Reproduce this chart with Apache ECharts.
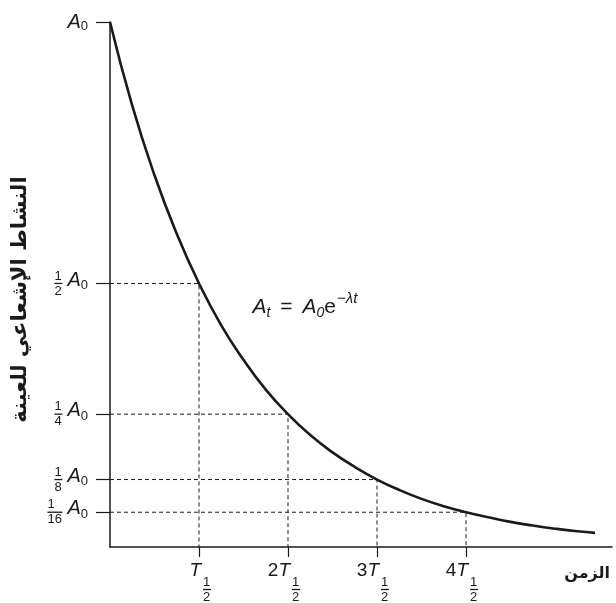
<!DOCTYPE html>
<html><head><meta charset="utf-8">
<script src="https://cdn.jsdelivr.net/npm/echarts@6/dist/echarts.min.js"></script>
<style>html,body{margin:0;padding:0;background:#fff}#c{width:616px;height:603px}</style>
</head><body><div id="c"></div>
<script>
// ---- data ----
const timeValues = [0,0.25,0.5,0.75,1,1.25,1.5,1.75,2,2.25,2.5,2.75,3,3.25,3.5,3.75,4,4.25,4.5,4.75,5,5.25,5.45];
const activityValues = [1,0.84,0.707,0.595,0.5,0.42,0.354,0.297,0.25,0.21,0.177,0.149,0.125,0.105,0.088,0.074,0.0625,0.053,0.044,0.037,0.031,0.026,0.023];
const halfLifeMultiples = [1,2,3,4];
const activityLevels = [0.5,0.25,0.125,0.0625];
const levelNumerators = ['1','1','1','1'];
const levelDenominators = ['2','4','8','16'];
const xCoefficients = ['','2','3','4'];
const yTickValues = [1,0.5,0.25,0.125,0.0625];
const yAxisTitle = 'النشاط الإشعاعي للعينة';
const xAxisTitle = 'الزمن';
const formulaAnchor = [1.6, 0.455];

const C = '#1a1a1a';
const F = '"Liberation Sans", Arial, sans-serif';
const yMin = -0.004, yMax = 1, xMin = 0, xMax = 5.64;

const chart = echarts.init(document.getElementById('c'), null, {renderer:'canvas'});

const curveData = timeValues.map((t,i)=>[t, activityValues[i]]);
const guideSeries = halfLifeMultiples.map((t,i)=>({
  type:'line', silent:true, symbol:'none', animation:false, z:2,
  lineStyle:{color:C, width:1, type:[4,3]},
  data:[[xMin, activityLevels[i]],[t, activityLevels[i]],[t, yMin]]
}));

function yLabel(v){
  if (v === 1) return '{At|A}{st|0}';
  const i = activityLevels.indexOf(v);
  if (i < 0) return '';
  const w = levelDenominators[i].length > 1;
  const n = w ? 'nw' : 'n', b = w ? 'bw' : 'b';
  return '{'+n+'|'+levelNumerators[i]+'}\n{'+b+'| }{g| }{A|A}{s|0}\n{'+n+'|'+levelDenominators[i]+'}';
}
function xLabel(v){
  const i = halfLifeMultiples.indexOf(v);
  if (i < 0) return '';
  const c = xCoefficients[i];
  const l1 = (c ? '{c|'+c+'}' : '') + '{t|T}{R| }';
  return l1 + '\n{s| }{n|1}{e| }\n{s3| }{b| }\n{s| }{n|2}{e| }';
}

const option = {
  backgroundColor:'#ffffff',
  animation:false,
  grid:{left:110, right:4, top:22, bottom:56, outerBoundsMode:'none', containLabel:false},
  xAxis:{
    type:'value', min:xMin, max:xMax,
    name:xAxisTitle, nameLocation:'end', nameGap:-2,
    nameTextStyle:{fontFamily:'"DejaVu Sans", sans-serif', fontSize:16, fontWeight:'bold', color:C, align:'right', verticalAlign:'top', padding:[19,0,0,0]},
    axisLine:{onZero:false, lineStyle:{color:C, width:1.5}},
    splitLine:{show:false},
    axisTick:{customValues:halfLifeMultiples, length:10, lineStyle:{color:C, width:1.2}},
    axisLabel:{customValues:halfLifeMultiples, formatter:xLabel, margin:18, align:'center', color:C,
      rich:{
        c:{fontFamily:F, fontSize:19, lineHeight:11, align:'right', verticalAlign:'middle', color:C},
        t:{fontFamily:F, fontSize:19, fontStyle:'italic', lineHeight:11, align:'right', verticalAlign:'middle', color:C},
        R:{width:28, fontSize:1, lineHeight:11, align:'right'},
        s:{width:34, fontSize:1, lineHeight:12, align:'left'},
        s3:{width:34, fontSize:1, lineHeight:3, align:'left'},
        n:{fontFamily:F, fontSize:13, width:8, lineHeight:12, align:'left', verticalAlign:'middle', color:C},
        e:{width:18, fontSize:1, lineHeight:12, align:'left'},
        b:{width:8, height:1.3, lineHeight:3, fontSize:1, backgroundColor:C, align:'left', verticalAlign:'middle'}
      }}
  },
  yAxis:{
    type:'value', min:yMin, max:yMax,
    name:yAxisTitle, nameLocation:'middle', nameRotate:90, nameGap:79,
    nameTextStyle:{fontFamily:'"DejaVu Sans", sans-serif', fontSize:21, fontWeight:'bold', color:C, padding:[0,30,0,0]},
    axisLine:{show:true, lineStyle:{color:C, width:1.5}},
    splitLine:{show:false},
    axisTick:{show:true, customValues:yTickValues, length:14, lineStyle:{color:C, width:1.2}},
    axisLabel:{customValues:yTickValues, formatter:yLabel, margin:22, align:'right', verticalAlign:'middle', color:C,
      rich:{
        At:{fontFamily:F, fontSize:20, fontStyle:'italic', lineHeight:3, height:3, align:'left', verticalAlign:'top', color:C},
        st:{fontFamily:F, fontSize:13, lineHeight:3, height:12, verticalAlign:'top', align:'left', color:C},
        A:{fontFamily:F, fontSize:20, fontStyle:'italic', lineHeight:3, height:10, verticalAlign:'bottom', align:'left', color:C},
        s:{fontFamily:F, fontSize:13, lineHeight:3, height:7, verticalAlign:'top', align:'left', color:C},
        n:{fontFamily:F, fontSize:13, lineHeight:12, width:8, align:'left', verticalAlign:'middle', color:C},
        nw:{fontFamily:F, fontSize:13, lineHeight:12, width:15, align:'left', verticalAlign:'middle', color:C},
        b:{width:8, height:1.3, lineHeight:3, fontSize:1, backgroundColor:C, align:'left', verticalAlign:'middle'},
        bw:{width:15, height:1.3, lineHeight:3, fontSize:1, backgroundColor:C, align:'left', verticalAlign:'middle'},
        g:{width:5, fontSize:1, lineHeight:3, align:'left', verticalAlign:'middle'}
      }}
  },
  series:[
    ...guideSeries,
    {type:'line', name:'activity', data:curveData, smooth:true, symbol:'none', z:5,
     lineStyle:{color:C, width:2.6}},
    {type:'scatter', data:[formulaAnchor], symbolSize:0, silent:true, z:6,
     itemStyle:{opacity:1, color:C},
     label:{show:true, position:'inside', align:'left', verticalAlign:'middle', color:C, opacity:1, textBorderWidth:0,
       formatter:'{A|A}{sb|t}{o|=}{A|A}{sb|0}{e|e}{sp|−λt}',
       rich:{
         A:{fontFamily:F, fontSize:21, fontStyle:'italic', lineHeight:18, verticalAlign:'middle', color:C, textBorderWidth:0},
         o:{fontFamily:F, fontSize:21, lineHeight:18, verticalAlign:'middle', color:C, padding:[0,10,0,10], textBorderWidth:0},
         e:{fontFamily:F, fontSize:21, lineHeight:18, verticalAlign:'middle', color:C, textBorderWidth:0},
         sb:{fontFamily:F, fontSize:14, fontStyle:'italic', lineHeight:18, height:6, verticalAlign:'bottom', color:C, textBorderWidth:0},
         sp:{fontFamily:F, fontSize:15, fontStyle:'italic', lineHeight:18, height:2, verticalAlign:'top', color:C, textBorderWidth:0, padding:[0,0,0,1]}
       }}}
  ]
};
chart.setOption(option);
</script>
</body></html>
